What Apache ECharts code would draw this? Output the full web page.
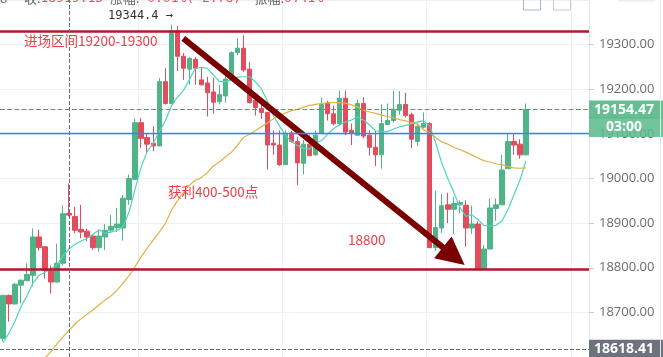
<!DOCTYPE html>
<html><head><meta charset="utf-8">
<script src="https://cdn.jsdelivr.net/npm/echarts@6/dist/echarts.min.js"></script>
<style>html,body{margin:0;padding:0;background:#fff;overflow:hidden}#c{width:663px;height:357px;}</style>
</head><body><div id="c"></div>
<script>
const opens = [18642,18738,18719,18761,18771,18783,18869,18847,18793,18768,
18810,18922,18915,18886,18882,18871,18845,18869,18884,18890,
18889,18953,18998,19125,19092,19079,19073,19217,19168,19331,
19274,19245,19267,19221,19214,19194,19172,19185,19223,19282,
19292,19245,19175,19157,19148,19079,19075,19031,19102,19083,
19034,19077,19053,19102,19168,19145,19123,19180,19108,19097,
19168,19097,19070,19053,19121,19130,19153,19166,19143,19083,
19115,19123,18845,18889,18941,18931,18941,18940,18889,18898,
18796,18842,18933,18941,19022,19083,19077,19053];
const closes = [18738,18719,18763,18772,18785,18869,18845,18794,18768,18810,
18921,18918,18884,18880,18869,18845,18871,18884,18893,18898,
18956,19000,19125,19090,19077,19073,19217,19168,19331,19274,
19247,19269,19247,19210,19192,19171,19188,19223,19282,19292,
19243,19170,19159,19148,19075,19075,19031,19101,19083,19035,
19077,19051,19097,19166,19145,19123,19180,19104,19101,19168,
19095,19070,19053,19123,19130,19155,19166,19141,19088,19117,
19123,18845,18890,18939,18931,18944,18946,18889,18898,18798,
18842,18934,18941,19019,19083,19075,19053,19154.47];
const highs = [18740,18740,18766,18774,18810,18888,18885,18848,18805,18854,
18940,18989,18936,18941,18888,18873,18885,18898,18918,18934,
18963,19009,19134,19136,19101,19117,19225,19247,19344.4,19342,
19281,19272,19272,19250,19228,19226,19210,19239,19285,19314,
19321,19261,19185,19170,19149,19108,19108,19108,19107,19094,
19086,19097,19108,19181,19174,19163,19197,19197,19123,19177,
19182,19108,19108,19166,19168,19197,19196,19192,19148,19123,
19148,19126,18973,18966,18968,18958,18951,18951,18939,18904,
18851,18955,18955,19053,19102,19101,19088,19168];
const lows = [18635,18679,18717,18720,18770,18758,18838,18776,18742,18767,
18805,18915,18878,18866,18860,18840,18836,18840,18880,18880,
18861,18941,18998,19068,19058,19061,19072,19166,19166,19241,
19221,19210,19210,19209,19139,19145,19166,19170,19221,19276,
19239,19168,19141,19134,19020,19053,19028,19030,19080,18985,
19009,19050,19051,19101,19130,19119,19119,19097,19075,19096,
19090,19051,19028,19022,19119,19126,19143,19137,19068,19073,
19112,18844,18838,18878,18900,18876,18922,18847,18876,18798,
18796,18842,18905,18941,19022,19053,19044,19052];
const maFast = [18632,18654,18680,18713,18737,18766,18783,18790,18798,18807,
18827,18842,18853,18860,18866,18875,18885,18877,18880,18884,
18893,18926,18978,19026,19061,19079,19105,19129,19162,19182,
19197,19221,19247,19249,19247,19232,19217,19217,19221,19227,
19228,19228,19217,19201,19173,19140,19118,19096,19083,19074,
19068,19066,19079,19085,19099,19112,19120,19127,19131,19138,
19131,19120,19107,19105,19105,19111,19116,19119,19123,19127,
19129,19118,19079,19035,19000,18969,18936,18915,18919,18908,
18895,18893,18895,18904,18930,18963,18996,19039];
const maSlow = ['-','-','-','-','-','-','-',18598,18612,18630,
18645,18660,18674,18686,18696,18706,18717,18728,18737,18750,
18766,18783,18803,18825,18844,18862,18880,18899,18928,18950,
18969,18985,18996,19002,19013,19028,19037,19048,19059,19074,
19092,19099,19107,19116,19125,19134,19140,19147,19152,19155,
19160,19164,19166,19168,19170,19170,19170,19169,19165,19160,
19153,19149,19146,19142,19139,19136,19132,19129,19125,19122,
19109,19103,19092,19082,19077,19070,19065,19059,19053,19046,
19040,19037,19033,19031,19027,19024,19023,19024];
const slotCount = 98;
const categories = Array.from({length: slotCount}, (_, i) => String(i + 1));
const lastPrice = 19154.47;
const crossPrice = 18618.41;
const crossIndex = 11;
const maxPrice = 19344.4;
const entryTop = 19331, supportLine = 18796, blueLine = 19101;
const arrowFrom = [30, 19314], arrowTo = [75, 18826];

const candleData = opens.map((o, i) => [o, closes[i], lows[i], highs[i]]);
const red = '#f03c46';
const boxLabel = (text, bg) => ({ show: true, position: 'end', distance: 0, formatter: text,
  backgroundColor: bg, color: '#fff', fontWeight: 'bold', fontSize: 14,
  fontFamily: 'Open Sans', padding: [2, 6, 2, 5], width: 63 });
const chart = echarts.init(document.getElementById('c'));
chart.setOption({
  animation: false,
  backgroundColor: '#fff',
  grid: { left: 0, right: 74, top: -6.7, bottom: -2, containLabel: false },
  xAxis: {
    type: 'category', data: categories, boundaryGap: true,
    axisLine: { show: false }, axisTick: { show: false }, axisLabel: { show: false },
    splitLine: { show: true, interval: (idx) => idx % 24 === 23, lineStyle: { color: '#eef0f4', width: 1 } }
  },
  yAxis: {
    type: 'value', position: 'right', min: 18600, max: 19400, interval: 100, scale: true,
    axisLine: { show: true, lineStyle: { color: '#dfe3ea' } },
    axisTick: { show: true, length: 5, lineStyle: { color: '#c9ced8' } },
    axisLabel: { show: true, margin: 10, color: '#6b6b6b', fontSize: 13, fontFamily: 'Open Sans',
      showMinLabel: false, showMaxLabel: false, formatter: (v) => v.toFixed(2) },
    splitLine: { show: true, lineStyle: { color: '#eef0f4' } }
  },
  series: [
    { type: 'line', data: [], z: 2,
      markLine: { silent: true, symbol: 'none', animation: false, label: { show: false },
        lineStyle: { color: '#b0182e', width: 2.5, type: 'solid' },
        data: [ { yAxis: entryTop }, { yAxis: supportLine } ] } },
    { type: 'line', data: [], z: 2,
      markLine: { silent: true, symbol: 'none', animation: false, label: { show: false },
        lineStyle: { color: '#666c78', width: 1, type: 'dashed' },
        data: [ { yAxis: crossPrice, label: boxLabel(crossPrice.toFixed(2), '#6e727d') }, { xAxis: crossIndex } ] } },
    { type: 'line', data: [], z: 2,
      markLine: { silent: true, symbol: 'none', animation: false,
        label: boxLabel(lastPrice.toFixed(2), 'rgba(88,186,138,0.92)'),
        lineStyle: { color: '#22b46a', width: 1.2, type: 'dashed' },
        data: [ { yAxis: lastPrice } ] } },
    {
      type: 'candlestick', data: candleData, barWidth: 5,
      itemStyle: { color: '#4fb487', color0: '#e34c5c', borderColor: '#4fb487', borderColor0: '#e34c5c', borderWidth: 1 },
      markLine: {
        silent: true, symbol: 'none', animation: false, label: { show: false },
        lineStyle: { color: '#7a0000', width: 6, type: 'solid' },
        data: [
          [ { coord: arrowFrom, symbol: 'none' },
            { coord: arrowTo, symbol: 'triangle', symbolSize: [28, 28] } ]
        ]
      }
    },
    { type: 'line', data: maFast, showSymbol: false, smooth: false, lineStyle: { color: '#4fd6bd', width: 1.2 }, itemStyle: { color: '#4fd6bd' }, z: 3,
      markLine: { silent: true, symbol: 'none', animation: false, label: { show: false },
        lineStyle: { color: '#1e8fff', width: 1.3, type: 'solid' },
        data: [ { yAxis: blueLine } ] } },
    { type: 'line', data: maSlow, showSymbol: false, smooth: false, lineStyle: { color: '#e2b24a', width: 1.2 }, itemStyle: { color: '#e2b24a' }, z: 3 }
  ],
  graphic: [
    { type: 'text', z: 100, left: 24, top: 34, style: { text: '进场区间19200-19300', fill: red, fontSize: 13.5, fontFamily: 'Noto Sans CJK SC' } },
    { type: 'text', z: 100, left: 168, top: 185, style: { text: '获利400-500点', fill: red, fontSize: 13.5, fontFamily: 'Noto Sans CJK SC' } },
    { type: 'text', z: 100, left: 348, top: 233, style: { text: '18800', fill: red, fontSize: 13.5, fontFamily: 'Noto Sans CJK SC' } },
    { type: 'text', z: 100, left: 108, top: 10, style: { text: maxPrice.toFixed(1) + ' →', fill: '#333', fontSize: 12, fontFamily: 'DejaVu Sans Mono' } },
    { type: 'text', z: 100, left: 0, top: -8, style: { text: '{g|8}     {g|收:}{r|18919.13}  {g|涨幅:}{r|-0.01%(-2.78)}    {g|振幅:}{r|0.41%}',
      rich: { g: { fill: '#666', fontSize: 13, fontFamily: 'Noto Sans CJK SC' }, r: { fill: '#e8505b', fontSize: 13, fontFamily: 'DejaVu Sans Mono' } } } },
    { type: 'rect', z: 100, shape: { x: 589, y: 117, width: 74, height: 20 }, style: { fill: 'rgba(88,186,138,0.85)' } },
    { type: 'text', z: 101, x: 624, y: 127, style: { text: '03:00', fill: '#fff', fontWeight: 'bold', fontSize: 14, fontFamily: 'Open Sans', align: 'center', verticalAlign: 'middle' } },
    { type: 'rect', z: 100, shape: { x: 523.5, y: -6, width: 17, height: 16 }, style: { fill: 'none', stroke: '#a9b3c6', lineWidth: 1 } },
    { type: 'rect', z: 100, shape: { x: 553.5, y: -6, width: 17, height: 16 }, style: { fill: 'none', stroke: '#c3cad8', lineWidth: 1 } },
    { type: 'rect', z: 100, shape: { x: 618.5, y: -10, width: 37, height: 11, r: 3 }, style: { fill: 'none', stroke: '#dfe3ea', lineWidth: 1 } },
    { type: 'line', z: 100, shape: { x1: 660.5, y1: 0, x2: 660.5, y2: 357 }, style: { stroke: '#e6e8ec', lineWidth: 1 } }
  ]
});
</script></body></html>
